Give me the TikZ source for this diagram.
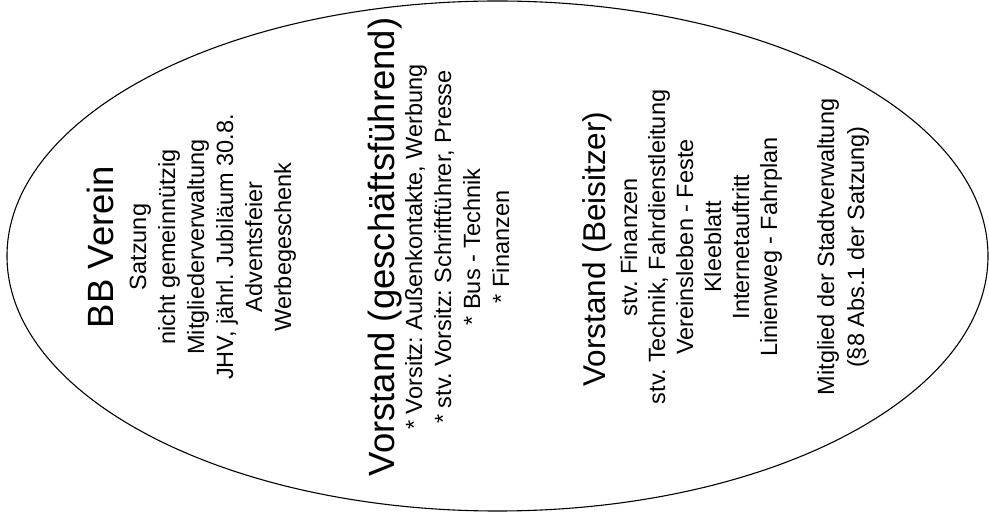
\documentclass[tikz,border=0pt]{standalone}
\usepackage{fontspec}
\setmainfont{Liberation Sans}
\frenchspacing
\begin{document}
\begin{tikzpicture}[x=1pt,y=-1pt,
  head/.style={rotate=90, anchor=base, inner sep=0pt, font=\fontsize{36.5}{40}\selectfont},
  headsm/.style={rotate=90, anchor=base, inner sep=0pt, font=\fontsize{31.5}{36}\selectfont},
  sub/.style={rotate=90, anchor=base, inner sep=0pt, font=\fontsize{23.5}{28}\selectfont}]
\useasboundingbox (0,0) rectangle (989,518);
\draw[line width=1.1pt] (497.5,256) ellipse [x radius=490.5pt, y radius=255pt];
% Block 1
\node[head] (bb) at (113,247) {BB Verein};
\node[sub] (b1) at (146,247) {Satzung};
\node[sub] (b2) at (175,247) {nicht gemeinnützig};
\node[sub] (b3) at (204,247) {Mitgliederverwaltung};
\node[sub] (b4) at (233,247) {JHV, jährl. Jubiläum 30.8.};
\node[sub] (b5) at (262,247) {Adventsfeier};
\node[sub] (b6) at (291,247) {Werbegeschenk};
% Block 2
\node[head] (gf) at (394,247) {Vorstand (geschäftsführend)};
\node[sub] (g1) at (422,247) {* Vorsitz: Außenkontakte, Werbung};
\node[sub] (g2) at (451,247) {* stv. Vorsitz: Schriftführer, Presse};
\node[sub] (g3) at (480,247) {* Bus - Technik};
\node[sub] (g4) at (509,247) {* Finanzen};
% Block 3
\node[headsm] (bs) at (605,249) {Vorstand (Beisitzer)};
\node[sub] (s1) at (637,247) {stv. Finanzen};
\node[sub] (s2) at (665,247) {stv. Technik, Fahrdienstleitung};
\node[sub] (s3) at (693,247) {Vereinsleben - Feste};
\node[sub] (s4) at (721,247) {Kleeblatt};
\node[sub] (s5) at (749,247) {Internetauftritt};
\node[sub] (s6) at (777,247) {Linienweg - Fahrplan};
% Block 4
\node[sub] (m1) at (834,247) {Mitglied der Stadtverwaltung};
\node[sub] (m2) at (864,247) {(§8 Abs.1 der Satzung)};
\end{tikzpicture}
\end{document}
